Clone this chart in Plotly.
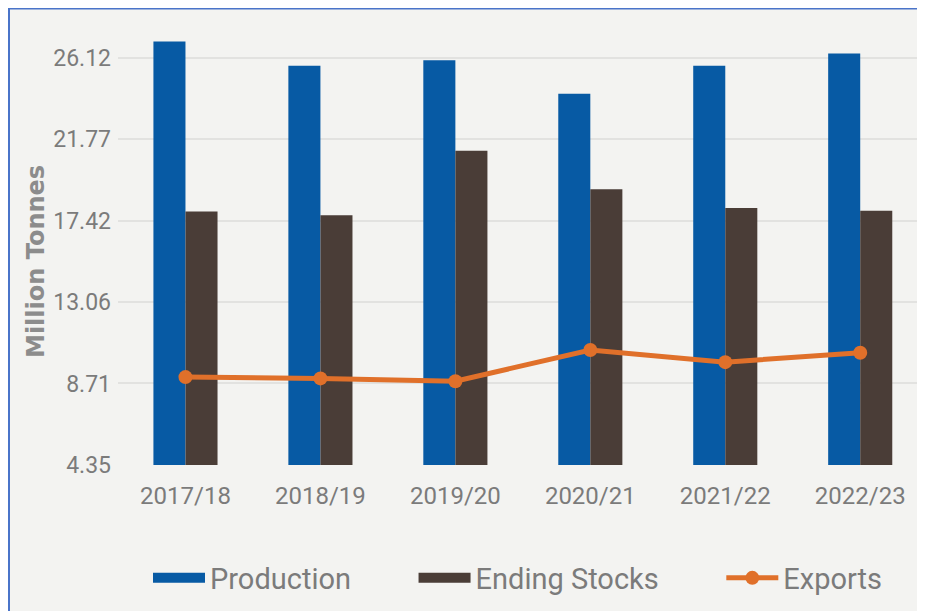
import plotly.graph_objects as go

categories = ["2017/18", "2018/19", "2019/20", "2020/21", "2021/22", "2022/23"]
production = [27.0, 25.7, 26.0, 24.2, 25.7, 26.35]
ending_stocks = [17.9, 17.7, 21.15, 19.1, 18.1, 17.95]
exports = [9.05, 8.98, 8.83, 10.5, 9.85, 10.35]
tick_vals = [4.35, 8.71, 13.06, 17.42, 21.77, 26.12]
tick_text = ["4.35", "8.71", "13.06", "17.42", "21.77", "26.12"]
series_names = ["Production", "Ending Stocks", "Exports"]
y_title = "Million Tonnes"

FONT = "Roboto, Arial, sans-serif"
GRAY = "#7b7b7b"
BLUE = "#075aa4"
BROWN = "#4a3d37"
ORANGE = "#e0702a"
NB = "\u00a0"

fig = go.Figure()
fig.add_trace(go.Bar(name=series_names[0], x=categories, y=production, legendgroup="p",
                     showlegend=False, marker=dict(color=BLUE, line=dict(width=0))))
fig.add_trace(go.Bar(name=series_names[1], x=categories, y=ending_stocks, legendgroup="e",
                     showlegend=False, marker=dict(color=BROWN, line=dict(width=0))))
fig.add_trace(go.Scatter(name=series_names[2], x=categories, y=exports, mode="lines+markers",
                         legendgroup="x", showlegend=False,
                         line=dict(color=ORANGE, width=5),
                         marker=dict(color=ORANGE, size=14)))
# legend-only entries (wide swatches like the reference); trailing no-break spaces set spacing
fig.add_trace(go.Scatter(name=series_names[0] + NB * 8, x=[None], y=[None], mode="lines",
                         legendgroup="p", line=dict(color=BLUE, width=14)))
fig.add_trace(go.Scatter(name=series_names[1] + NB * 8, x=[None], y=[None], mode="lines",
                         legendgroup="e", line=dict(color=BROWN, width=14)))
fig.add_trace(go.Scatter(name=series_names[2], x=[None], y=[None], mode="lines+markers",
                         legendgroup="x", line=dict(color=ORANGE, width=5),
                         marker=dict(color=ORANGE, size=14)))

# page has an 8px body margin; figure fills the rest of the 925x611 window
W, H = 917, 603
L, R, T, B = 110, 0, 12, 146
pw, ph = W - L - R, H - T - B

def px(x):
    return (x - L) / pw

def py(y):
    return (H - B - y) / ph

fig.update_layout(
    width=W, height=H,
    margin=dict(l=L, r=R, t=T, b=B, pad=0),
    paper_bgcolor="#f3f3f1",
    plot_bgcolor="rgba(0,0,0,0)",
    barmode="group", bargap=0.525, bargroupgap=0,
    font=dict(family=FONT, color=GRAY),
    showlegend=True,
    legend=dict(orientation="h", x=px(140), xanchor="left", y=py(570), yanchor="middle",
                font=dict(size=29, color=GRAY, family=FONT),
                bgcolor="rgba(0,0,0,0)", itemwidth=52, traceorder="normal"),
    shapes=[
        dict(type="line", xref="paper", yref="paper", layer="above",
             x0=px(0), x1=px(930), y0=py(0.5), y1=py(0.5),
             line=dict(color="#4a74c9", width=2)),
        dict(type="line", xref="paper", yref="paper", layer="above",
             x0=px(1), x1=px(1), y0=py(0), y1=py(620),
             line=dict(color="#4a74c9", width=2)),
    ],
    annotations=[
        dict(text="<b>" + y_title + "</b>", textangle=-90, xref="paper", yref="paper",
             x=px(28), y=py(254), xanchor="center", yanchor="middle", showarrow=False,
             font=dict(size=24, color="#8c8c8c", family="DejaVu Sans, Arial, sans-serif")),
    ],
)

fig.update_xaxes(range=[-0.5, 5.48], showgrid=False, zeroline=False, showline=False,
                 ticks="", tickfont=dict(size=24, color=GRAY, family=FONT), ticklabelstandoff=14)
fig.update_yaxes(range=[4.35, 4.35 + ph * (4.353 / 81.4)], tickvals=tick_vals, ticktext=tick_text,
                 showgrid=True, gridcolor="#e2e2e0", gridwidth=2, zeroline=False, showline=False,
                 ticks="", tickfont=dict(size=23, color=GRAY, family=FONT), ticklabelstandoff=6)

fig.write_html("out.html")
